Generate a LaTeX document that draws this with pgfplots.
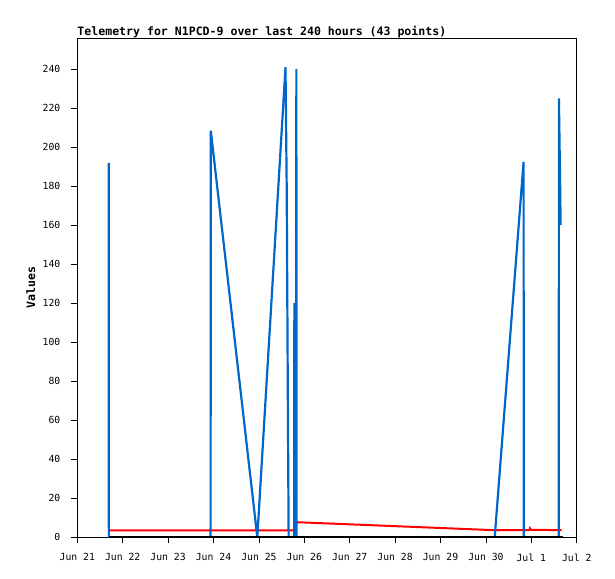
\documentclass[border=0pt]{standalone}
\usepackage{fontspec}
\setmonofont{DejaVu Sans Mono}
\usepackage{pgfplots}
\pgfplotsset{compat=1.18}
\definecolor{teleblue}{RGB}{0,102,204}
\definecolor{telered}{RGB}{255,0,0}

\begin{document}
\begin{tikzpicture}
\useasboundingbox (-77.3bp,-41.8bp) rectangle (537.7bp,537.2bp);
\begin{axis}[
  scale only axis,
  width=499.4bp, height=499.2bp,
  xmin=0, xmax=11, ymin=0, ymax=256,
  xtick={0,1,2,3,4,5,6,7,8,9,10,11},
  xticklabels={Jun 21,Jun 22,Jun 23,Jun 24,Jun 25,Jun 26,Jun 27,Jun 28,Jun 29,Jun 30,Jul 1,Jul 2},
  ytick={0,20,40,60,80,100,120,140,160,180,200,220,240},
  xtick pos=left, ytick pos=left,
  tick align=outside,
  major tick length=6bp,
  every tick/.style={black, line width=0.8bp},
  axis line style={black, line width=0.8bp},
  /pgf/number format/assume math mode=true,
  tick label style={font=\fontsize{9.8}{10}\selectfont\ttfamily},
  y tick label style={xshift=-7.5bp},
  x tick label style={yshift=-7bp},
  every axis title shift/.style={yshift=0pt},
  title={Telemetry for N1PCD-9 over last 240 hours (43 points)},
  title style={at={(0,1)}, anchor=base west, yshift=-3bp, inner sep=0pt,
    font=\fontsize{11.6}{12}\selectfont\ttfamily\bfseries},
  ylabel={Values},
  ylabel style={at={([xshift=-46.5bp]axis description cs:0,0.5)}, anchor=center,
    font=\fontsize{11.6}{12}\selectfont\ttfamily\bfseries},
  clip=true,
]

% red channel
\addplot[telered, line width=2bp] coordinates {
  (0.692,3.5) (4.800,3.5) (4.830,7.7) (9.190,3.6) (9.955,3.6)
  (9.970,4.6) (9.995,3.8) (10.670,3.6)
};

% blue channel
\addplot[teleblue, line width=2.2bp] coordinates {
  (0.692,192) (0.695,0) (2.936,0) (2.940,208.5) (3.965,0)
  (4.586,241) (4.612,180) (4.640,60) (4.655,0) (4.778,0)
  (4.781,120) (4.786,0) (4.822,0) (4.825,240) (4.830,0)
  (9.194,0) (9.830,192.5) (9.834,0) (10.605,0) (10.608,225)
  (10.638,176) (10.645,160)
};

% zero channel
\addplot[black, line width=2bp] coordinates {
  (0.692,0) (10.690,0)
};

\end{axis}
\end{tikzpicture}
\end{document}
